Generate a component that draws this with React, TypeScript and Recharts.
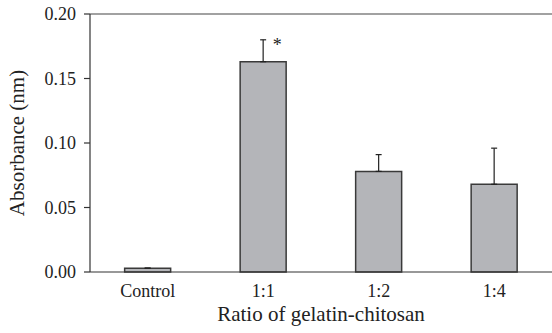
import { BarChart, Bar, XAxis, YAxis, ErrorBar, ReferenceLine, LabelList } from "recharts";

const ratios = ["Control", "1:1", "1:2", "1:4"];
const absorbance = [0.003, 0.163, 0.078, 0.068];
const errorUp = [0, 0.017, 0.013, 0.028];
const marks = ["", "*", "", ""];
const yTicks = [0, 0.05, 0.1, 0.15, 0.2];

const data = ratios.map((ratio, i) => ({
  ratio,
  value: absorbance[i],
  err: [0, errorUp[i]],
  mark: marks[i],
}));

const font = "Liberation Serif";
const ink = "#222";

function StarLabel(props: any) {
  const { x, y, width, value } = props;
  if (!value) return null;
  return (
    <text x={x + width / 2 + 14} y={y - 11} textAnchor="middle" fontFamily={font} fontSize={18} fill={ink}>
      {value}
    </text>
  );
}

function XTitle(props: any) {
  const { viewBox } = props;
  const cx = viewBox.x + viewBox.width / 2;
  return (
    <text x={cx} y={viewBox.y + viewBox.height - 12} textAnchor="middle" fontFamily={font} fontSize={21} fill={ink}>
      Ratio of gelatin-chitosan
    </text>
  );
}

function YTitle(props: any) {
  const { viewBox } = props;
  const cy = viewBox.y + viewBox.height / 2;
  const x = 24;
  return (
    <text
      x={x}
      y={cy}
      transform={`rotate(-90 ${x} ${cy})`}
      textAnchor="middle"
      fontFamily={font}
      fontSize={21}
      fill={ink}
    >
      Absorbance (nm)
    </text>
  );
}

export default function App() {
  return (
    <div style={{ position: "absolute", left: 0, top: 0, background: "#fff" }}>
      <BarChart
        width={552}
        height={333}
        data={data}
        margin={{ top: 14, right: 0, bottom: 0, left: 0 }}
        barCategoryGap="30%"
      >
        <XAxis
          dataKey="ratio"
          height={61}
          tickLine={false}
          tickSize={0}
          tickMargin={12}
          axisLine={{ stroke: "#333", strokeWidth: 1.2 }}
          tick={{ fontFamily: font, fontSize: 18, fill: ink }}
          label={{ content: XTitle }}
        />
        <YAxis
          width={90}
          domain={[0, 0.2]}
          ticks={yTicks}
          tickFormatter={(v: number) => v.toFixed(2)}
          tickSize={6}
          tickMargin={8}
          axisLine={{ stroke: "#333", strokeWidth: 1.2 }}
          tickLine={{ stroke: "#333", strokeWidth: 1.2 }}
          tick={{ fontFamily: font, fontSize: 18, fill: ink }}
          label={{ content: YTitle }}
        />
        <ReferenceLine y={0.2} stroke="#444" strokeWidth={1.2} />
        <Bar dataKey="value" fill="#b4b5b9" stroke="#3a3a3a" strokeWidth={1.5} isAnimationActive={false}>
          <ErrorBar dataKey="err" width={3} stroke={ink} strokeWidth={1.2} direction="y" />
          <LabelList dataKey="mark" content={StarLabel} />
        </Bar>
      </BarChart>
    </div>
  );
}
